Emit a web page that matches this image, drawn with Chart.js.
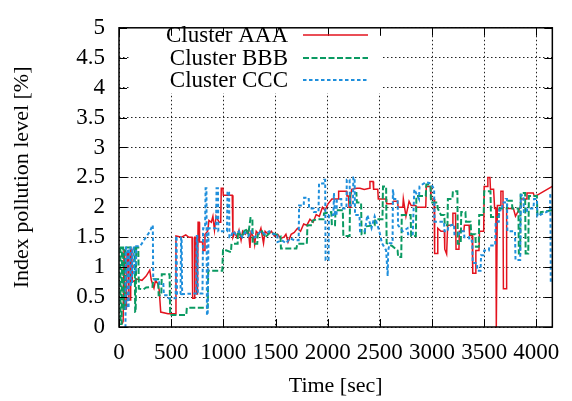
<!DOCTYPE html>
<html>
<head>
<meta charset="utf-8">
<script src="https://cdn.jsdelivr.net/npm/chart.js@4/dist/chart.umd.min.js"></script>
<style>
  html, body { margin: 0; padding: 0; background: #fff; }
  #wrap { width: 572px; height: 401px; }
</style>
</head>
<body>
<div id="wrap"><canvas id="chart" width="572" height="401"></canvas></div>
<script>
// values (time in sec, pollution level in %)
const seriesNames = ['Cluster AAA', 'Cluster BBB', 'Cluster CCC'];

const aaaTime = [30,40,48,55,70,78,90,95,108,112,122,128,170,220,260,295,310,335,350,372,385,400,470,540,546,600,640,670,700,706,722,726,740,744,752,758,768,772,800,805,820,824,850,862,885,900,915,930,960,975,980,995,1000,1085,1092,
  1110,1130,1150,1170,1185,1210,1240,1255,1265,1290,1300,1315,1340,1360,1385,1400,1430,1460,1490,1520,1550,1580,1600,1620,1650,1680,1710,1740,1770,1800,1830,1860,1890,1920,1950,1975,2000,2040,2100,2105,2180,2185,2200,2205,2215,2220,2230,2280,2310,2350,2400,2405,2435,2440,2480,2485,2560,2565,2620,2630,2670,2675,2720,2725,2750,2780,2800,2845,2850,2940,2945,2985,2990,3020,3025,3050,3055,
  3086,3118,3122,3140,3150,3195,3200,3225,3230,3258,3262,3305,3310,3355,3360,3385,3390,3415,3420,3450,3455,3495,3500,3530,3535,3555,3560,3590,3600,3612,3616,3622,3626,3655,3660,3680,3684,3710,3715,3780,3800,3845,3850,3905,3910,3970,3980,4005,4153];
const aaaValue = [0.05,0.1,1.3,0.3,0.3,1.25,1.25,0.45,0.45,1.3,1.3,0.75,0.8,0.78,0.85,0.95,0.78,0.65,0.78,0.72,0.62,0.25,0.22,0.22,1.52,1.5,1.54,1.5,1.5,0.48,0.48,1.5,1.5,0.55,0.55,1.75,1.75,1.42,1.42,1.28,1.28,1.55,1.6,1.78,1.75,1.85,1.62,1.85,1.75,1.75,2.32,2.32,2.2,2.2,1.5,
  1.58,1.5,1.62,1.45,1.6,1.55,1.62,1.32,1.58,1.5,1.38,1.6,1.55,1.65,1.4,1.6,1.55,1.6,1.52,1.55,1.48,1.5,1.55,1.42,1.55,1.58,1.65,1.6,1.72,1.7,1.8,1.75,1.88,1.85,2.0,1.95,2.05,2.14,2.14,2.27,2.27,2.19,2.19,2.0,2.0,2.19,2.3,2.32,2.32,2.3,2.32,2.43,2.43,2.3,2.3,2.14,2.14,2.06,2.06,2.1,2.1,2.0,2.0,2.14,1.85,2.1,2.03,2.03,2.0,2.0,2.35,2.35,2.14,2.14,1.23,1.23,1.65,
  1.6,1.6,1.3,1.22,1.7,1.7,1.9,1.9,1.3,1.3,1.6,1.6,1.7,1.7,1.53,1.53,0.9,0.9,1.28,1.28,1.6,1.6,2.35,2.35,2.5,2.5,2.3,2.3,1.98,1.98,0,0,2.03,2.03,2.27,2.27,0.64,0.64,1.98,1.98,1.85,2.0,2.14,2.14,2.24,2.24,2.19,2.2,2.35];

const bbbTime = [10,13,15,25,28,40,45,55,60,150,155,160,165,185,190,235,260,320,330,375,380,405,410,485,490,645,650,850,855,990,997,1073,1078,1137,1140,1180,1210,1240,1260,1278,1282,1325,1330,1370,1400,1450,1500,1548,1552,1700,1709,1800,1806,1850,1855,1900,1960,1965,2035,
  2040,2070,2075,2145,2150,2210,2215,2275,2280,2320,2325,2355,2360,2450,2455,2525,2530,2560,2565,2620,2670,2675,2705,2710,2795,2800,2845,2850,2940,2945,2985,2990,3050,3055,
  3086,3118,3122,3148,3152,3195,3200,3243,3247,3275,3280,3320,3325,3370,3375,3415,3420,3448,3452,3495,3500,3560,3565,3640,3645,3718,3722,3765,3770,3828,3832,3845,3850,3892,3897,3922,3928,4005,4010,4038,4042,4153];
const bbbValue = [1.33,1.33,0.05,0.05,1.33,1.33,0.3,0.3,1.33,1.33,0.25,0.25,1.33,1.33,0.64,0.63,0.66,0.67,0.8,0.8,0.53,0.53,0.88,0.88,0.2,0.2,0.32,0.32,0.94,0.94,1.3,1.25,1.39,1.39,1.6,1.5,1.65,1.55,1.82,1.82,1.39,1.39,1.55,1.6,1.5,1.58,1.55,1.52,1.31,1.31,1.39,1.39,1.7,1.7,1.78,1.8,1.8,1.9,1.92,
  1.7,1.7,1.95,1.95,1.52,1.52,2.24,2.24,2.08,2.08,1.55,1.55,1.68,1.7,1.8,1.8,2.35,2.35,1.4,1.35,1.28,1.17,1.17,1.87,1.87,1.52,1.52,2.19,2.19,2.38,2.38,2.08,2.08,1.98,
  1.87,1.87,1.7,1.7,2.14,2.14,2.27,2.27,1.39,1.39,1.92,1.92,1.76,1.76,1.55,1.55,1.34,1.34,1.87,1.87,2.27,2.27,1.84,1.84,1.98,1.98,2.11,2.11,1.98,1.98,1.23,1.23,2.24,2.24,1.23,1.23,2.19,2.19,1.87,1.87,1.92,1.95];

const cccTime = [55,62,66,80,84,92,95,110,114,124,128,140,145,160,165,203,250,298,320,324,328,378,390,425,430,470,475,543,547,552,556,590,595,600,605,740,745,750,755,800,806,825,830,838,843,850,858,930,935,948,952,1035,1040,1055,1058,1074,
  1090,1120,1150,1180,1210,1240,1270,1300,1330,1360,1400,1440,1480,1518,1520,1560,1600,1640,1680,1722,1726,1770,1774,1818,1822,1865,1868,1912,1917,1960,1965,1976,1980,2008,2012,2055,2060,2070,2085,2088,2130,2134,2180,2183,2210,2214,2242,2246,2258,2262,2305,2310,2355,2380,2420,2450,2495,2520,2560,2575,2580,2594,2622,2625,2635,2670,2675,2720,2765,2770,2815,2830,2875,2880,2940,2990,3020,3024,
  3115,3120,3150,3155,3210,3215,3258,3262,3305,3310,3355,3360,3385,3390,3430,3435,3465,3470,3495,3500,3545,3550,3605,3610,3640,3645,3670,3675,3700,3705,3718,3722,3795,3800,3845,3850,3876,3880,3908,3912,3972,3978,4005,4010,4130,4134,4138,4153];
const cccValue = [0,0,1.33,1.33,0.32,0.32,1.33,1.33,0.7,0.7,1.33,1.33,0.9,0.9,1.35,1.35,1.48,1.6,1.7,1.7,0.8,0.78,0.72,0.72,0.53,0.53,0.48,0.48,1.52,1.52,0.55,0.55,1.5,1.5,0.55,0.56,1.52,1.52,0.56,0.56,1.65,1.65,2.32,2.32,0.2,0.2,1.65,1.65,2.32,2.32,1.6,1.6,2.27,2.25,1.5,1.5,
  1.6,1.55,1.6,1.5,1.58,1.52,1.6,1.5,1.55,1.6,1.55,1.6,1.55,1.55,1.42,1.45,1.4,1.48,1.45,1.45,2.03,2.03,2.16,2.16,1.98,1.98,1.92,1.92,2.4,2.4,2.46,2.46,1.12,1.12,1.87,1.87,2.24,1.87,1.87,2.14,2.14,1.98,1.98,2.46,2.46,2.03,2.03,2.5,2.5,1.87,1.87,1.6,1.6,1.87,1.65,1.85,1.6,1.4,1.28,0.85,1.28,1.4,1.4,2.3,2.14,2.14,1.7,1.6,1.65,1.55,1.55,2.3,2.14,2.35,2.42,2.4,2.3,1.76,
  1.76,1.6,1.6,1.68,1.72,1.55,1.55,1.6,1.6,1.5,1.5,1.44,1.44,1.07,1.07,0.94,0.94,1.2,1.2,1.28,1.28,1.36,1.36,1.76,1.76,1.95,1.95,2.08,2.08,2.14,2.14,1.6,1.6,1.12,1.12,2.2,2.2,1.92,1.92,1.98,1.98,2.14,2.14,1.85,1.95,2.24,0.75,0.75];

const xTicks = [0, 500, 1000, 1500, 2000, 2500, 3000, 3500, 4000];
const yTicks = [0, 0.5, 1, 1.5, 2, 2.5, 3, 3.5, 4, 4.5, 5];

const FONT = '"Liberation Serif", "DejaVu Serif", serif';
const colors = ['#e3131e', '#0a9a62', '#1f8fdc'];
const dashes = [[], [6, 2.5], [3.5, 2.5]];
const widths = [1.5, 2, 2];

const toPoints = (t, v) => t.map((x, i) => ({ x: x, y: v[i] }));
const times = [aaaTime, bbbTime, cccTime];
const values = [aaaValue, bbbValue, cccValue];

// gnuplot-like frame: border, inward ticks, opaque key box and key
const gnuplotFrame = {
  id: 'gnuplotFrame',
  beforeDatasetsDraw(chart) {
    const ctx = chart.ctx;
    ctx.save();
    ctx.fillStyle = '#fff';
    ctx.fillRect(130, 21, 252, 72);
    ctx.restore();
  },
  afterDraw(chart) {
    const { ctx, chartArea: a, scales } = chart;
    ctx.save();
    ctx.strokeStyle = '#000';
    ctx.lineWidth = 1.5;
    ctx.setLineDash([]);
    ctx.strokeRect(a.left, a.top, a.right - a.left, a.bottom - a.top);
    ctx.lineWidth = 1;
    const tl = 8;
    scales.x.ticks.forEach(t => {
      const px = Math.round(scales.x.getPixelForValue(t.value)) + 0.5;
      ctx.beginPath();
      ctx.moveTo(px, a.bottom); ctx.lineTo(px, a.bottom - tl);
      ctx.moveTo(px, a.top); ctx.lineTo(px, a.top + tl);
      ctx.stroke();
    });
    scales.y.ticks.forEach(t => {
      const py = Math.round(scales.y.getPixelForValue(t.value)) + 0.5;
      ctx.beginPath();
      ctx.moveTo(a.left, py); ctx.lineTo(a.left + tl, py);
      ctx.moveTo(a.right, py); ctx.lineTo(a.right - tl, py);
      ctx.stroke();
    });
    // key
    const rows = [35, 58, 80];
    ctx.font = '23px ' + FONT;
    ctx.fillStyle = '#000';
    ctx.textAlign = 'right';
    ctx.textBaseline = 'middle';
    chart.data.datasets.forEach((ds, i) => {
      ctx.fillText(ds.label, 288, rows[i] + 1);
      ctx.strokeStyle = ds.borderColor;
      ctx.lineWidth = ds.borderWidth;
      ctx.setLineDash(ds.borderDash);
      ctx.beginPath();
      ctx.moveTo(303, rows[i]); ctx.lineTo(368, rows[i]);
      ctx.stroke();
    });
    ctx.restore();
  }
};

function draw() {
  new Chart(document.getElementById('chart'), {
    type: 'line',
    data: {
      datasets: seriesNames.map((name, i) => ({
        label: name,
        data: toPoints(times[i], values[i]),
        borderColor: colors[i],
        borderWidth: widths[i],
        borderDash: dashes[i],
        pointRadius: 0,
        tension: 0,
        fill: false,
        order: 3 - i,
      })),
    },
    options: {
      responsive: false,
      animation: false,
      layout: { padding: { top: 15, right: 17, left: 0, bottom: 0 } },
      plugins: { legend: { display: false }, tooltip: { enabled: false } },
      scales: {
        x: {
          type: 'linear',
          min: 0,
          max: 4153,
          afterFit: s => { s.height = 74; },
          afterBuildTicks: s => { s.ticks = xTicks.map(v => ({ value: v })); },
          ticks: { padding: 12, color: '#000', maxRotation: 0, autoSkip: false, callback: v => String(v), font: { family: FONT, size: 23 } },
          grid: { color: '#222', lineWidth: 1, drawTicks: false },
          border: { display: false, dash: [1.5, 2.5] },
          title: { display: true, text: 'Time [sec]', color: '#000', padding: { top: 0, bottom: 2 }, font: { family: FONT, size: 22 } },
        },
        y: {
          min: 0,
          max: 5,
          afterFit: s => { s.width = 119; },
          afterBuildTicks: s => { s.ticks = yTicks.map(v => ({ value: v })); },
          ticks: { padding: 14, color: '#000', autoSkip: false, callback: v => String(v), font: { family: FONT, size: 23 } },
          grid: { color: '#222', lineWidth: 1, drawTicks: false },
          border: { display: false, dash: [1.5, 2.5] },
          title: { display: true, text: 'Index pollution level [%]', color: '#000', padding: { top: 9, bottom: 0 }, font: { family: FONT, size: 22 } },
        },
      },
    },
    plugins: [gnuplotFrame],
  });
}

if (document.fonts && document.fonts.load) {
  document.fonts.load('22px "Liberation Serif"').then(draw, draw);
} else {
  draw();
}
</script>
</body>
</html>
